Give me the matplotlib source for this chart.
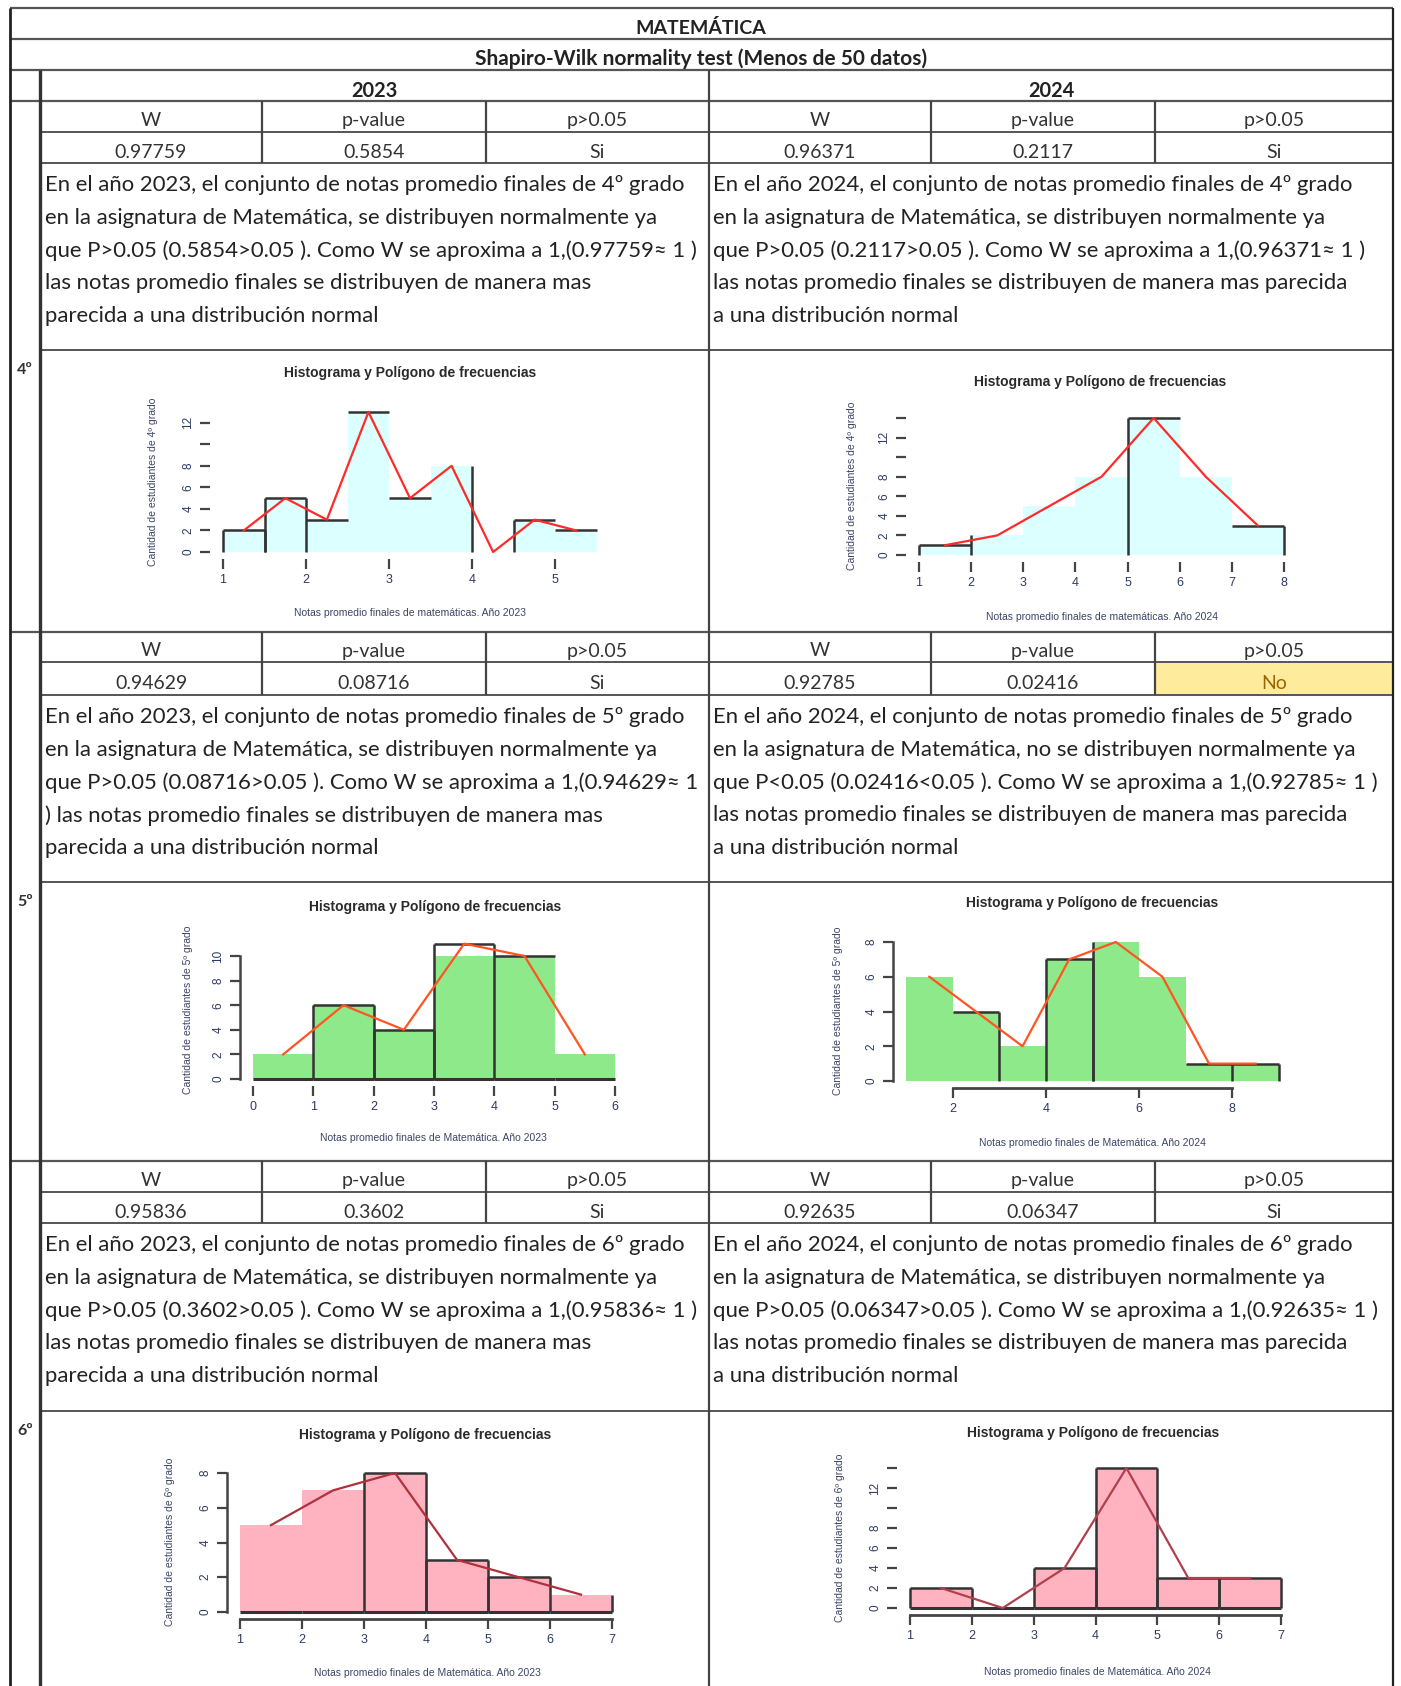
import numpy as np
import matplotlib.pyplot as plt
from matplotlib.patches import Rectangle

plt.rcParams['font.family'] = ['Lato', 'DejaVu Sans']

W_PX, H_PX = 1401, 1686

# ---- table data ----
grades = ['4º', '5º', '6º']
years = ['2023', '2024']
col_heads = ['W', 'p-value', 'p>0.05']
w_2023 = ['0.97759', '0.94629', '0.95836']
p_2023 = ['0.5854', '0.08716', '0.3602']
ok_2023 = ['Si', 'Si', 'Si']
w_2024 = ['0.96371', '0.92785', '0.92635']
p_2024 = ['0.2117', '0.02416', '0.06347']
ok_2024 = ['Si', 'No', 'Si']

text_2023 = [
    ["En el año 2023, el conjunto de notas promedio finales de 4º grado",
     "en la asignatura de Matemática, se distribuyen normalmente ya",
     "que P>0.05 (0.5854>0.05 ). Como W se aproxima a 1,(0.97759≈ 1 )",
     "las notas promedio finales se distribuyen de manera mas",
     "parecida a una distribución normal"],
    ["En el año 2023, el conjunto de notas promedio finales de 5º grado",
     "en la asignatura de Matemática, se distribuyen normalmente ya",
     "que P>0.05 (0.08716>0.05 ). Como W se aproxima a 1,(0.94629≈ 1",
     ") las notas promedio finales se distribuyen de manera mas",
     "parecida a una distribución normal"],
    ["En el año 2023, el conjunto de notas promedio finales de 6º grado",
     "en la asignatura de Matemática, se distribuyen normalmente ya",
     "que P>0.05 (0.3602>0.05 ). Como W se aproxima a 1,(0.95836≈ 1 )",
     "las notas promedio finales se distribuyen de manera mas",
     "parecida a una distribución normal"],
]
text_2024 = [
    ["En el año 2024, el conjunto de notas promedio finales de 4º grado",
     "en la asignatura de Matemática, se distribuyen normalmente ya",
     "que P>0.05 (0.2117>0.05 ). Como W se aproxima a 1,(0.96371≈ 1 )",
     "las notas promedio finales se distribuyen de manera mas parecida",
     "a una distribución normal"],
    ["En el año 2024, el conjunto de notas promedio finales de 5º grado",
     "en la asignatura de Matemática, no se distribuyen normalmente ya",
     "que P<0.05 (0.02416<0.05 ). Como W se aproxima a 1,(0.92785≈ 1 )",
     "las notas promedio finales se distribuyen de manera mas parecida",
     "a una distribución normal"],
    ["En el año 2024, el conjunto de notas promedio finales de 6º grado",
     "en la asignatura de Matemática, se distribuyen normalmente ya",
     "que P>0.05 (0.06347>0.05 ). Como W se aproxima a 1,(0.92635≈ 1 )",
     "las notas promedio finales se distribuyen de manera mas parecida",
     "a una distribución normal"],
]

# ---- histogram data (bin edges + counts) ----
edges_4_2023 = [1, 1.5, 2, 2.5, 3, 3.5, 4, 4.5, 5, 5.5]
counts_4_2023 = [2, 5, 3, 13, 5, 8, 0, 3, 2]
edges_4_2024 = [1, 2, 3, 4, 5, 6, 7, 8]
counts_4_2024 = [1, 2, 5, 8, 14, 8, 3]
edges_5_2023 = [0, 1, 2, 3, 4, 5, 6]
counts_5_2023 = [2, 6, 4, 11, 10, 2]
edges_5_2024 = [1, 2, 3, 4, 5, 6, 7, 8, 9]
counts_5_2024 = [6, 4, 2, 7, 8, 6, 1, 1]
edges_6_2023 = [1, 2, 3, 4, 5, 6, 7]
counts_6_2023 = [5, 7, 8, 3, 2, 1]
edges_6_2024 = [1, 2, 3, 4, 5, 6, 7]
counts_6_2024 = [2, 0, 4, 14, 3, 3]

xlab_2023 = ['Notas promedio finales de matemáticas. Año 2023',
             'Notas promedio finales de Matemática. Año 2023',
             'Notas promedio finales de Matemática. Año 2023']
xlab_2024 = ['Notas promedio finales de matemáticas. Año 2024',
             'Notas promedio finales de Matemática. Año 2024',
             'Notas promedio finales de Matemática. Año 2024']

fig = plt.figure(figsize=(W_PX / 100, H_PX / 100), dpi=100)
ax = fig.add_axes([0, 0, 1, 1])
ax.set_xlim(0, W_PX)
ax.set_ylim(H_PX, 0)
ax.axis('off')

# column / row grid (pixels)
XL, XG, XM, XR = 10, 40, 709, 1393
sub_x = [40, 262, 486, 709, 931, 1155, 1393]
blocks = [(101, 132, 163, 350, 632), (632, 662, 695, 882, 1161), (1161, 1192, 1223, 1411, 1686)]

lc = '#555555'
for y in [8, 39, 70, 101]:
    ax.hlines(y, XL, XR, color=lc, lw=1.6)
for i, (y0, y1, y2, y3, y4) in enumerate(blocks):
    if i > 0:
        ax.hlines(y0, XL, XR, color=lc, lw=1.6)
    for y in [y1, y2, y3]:
        ax.hlines(y, XG, XR, color=lc, lw=1.4)
    for x in sub_x[1:3] + sub_x[4:6]:
        ax.vlines(x, y0, y2, color='#444444', lw=1.6)
ax.vlines(XL, 8, H_PX, color='#222222', lw=2)
ax.vlines(XG, 70, H_PX, color='#333333', lw=2.4)
ax.vlines(XM, 70, H_PX, color='#444444', lw=1.6)
ax.vlines(XR, 8, H_PX, color='#222222', lw=1.6)

ax.text(701, 28, 'MATEMÁTICA', ha='center', va='center', fontsize=14, fontweight='bold', color='#222222')
ax.text(701, 59, 'Shapiro-Wilk normality test (Menos de 50 datos)', ha='center', va='center',
        fontsize=15, fontweight='bold', color='#222222')
ax.text((XG + XM) / 2, 91, years[0], ha='center', va='center', fontsize=14.4, fontweight='bold', color='#222222')
ax.text((XM + XR) / 2, 91, years[1], ha='center', va='center', fontsize=14.4, fontweight='bold', color='#222222')

stats_2023 = list(zip(w_2023, p_2023, ok_2023))
stats_2024 = list(zip(w_2024, p_2024, ok_2024))
for i, (y0, y1, y2, y3, y4) in enumerate(blocks):
    rows = stats_2023[i] + stats_2024[i]
    for j in range(6):
        xc = (sub_x[j] + sub_x[j + 1]) / 2
        ax.text(xc, (y0 + y1) / 2 + 4, col_heads[j % 3], ha='center', va='center', fontsize=14, color='#333333')
        col = '#333333'
        if rows[j] == 'No':
            ax.add_patch(Rectangle((sub_x[j] + 1, y1 + 1), sub_x[j + 1] - sub_x[j] - 2, y2 - y1 - 2,
                                   facecolor='#FFEB9C', edgecolor='none', zorder=0))
            col = '#9C6500'
        ax.text(xc, (y1 + y2) / 2 + 5, rows[j], ha='center', va='center', fontsize=14, color=col)
    for k in range(5):
        yy = y2 + 22 + 32.8 * k
        ax.text(45, yy, text_2023[i][k], ha='left', va='center', fontsize=15.9, color='#222222')
        ax.text(713, yy, text_2024[i][k], ha='left', va='center', fontsize=15.9, color='#222222')
    ax.text(25, y3 + 20, grades[i], ha='center', va='center', fontsize=11.5, fontweight='bold', color='#333333')


def hist_panel(edges, counts, xlim, xpx, ylim, ypx, face, line_col, styles,
               xticks, yticks, ylabels, left_bounds, bottom_bounds,
               title_xy, xlab, xlab_xy, ylab, ylab_xy):
    x0, x1 = xpx
    yb, yt = ypx
    a = fig.add_axes([x0 / W_PX, 1 - yb / H_PX, (x1 - x0) / W_PX, (yb - yt) / H_PX])
    a.set_facecolor('none')
    a.set_xlim(*xlim)
    a.set_ylim(*ylim)
    e = np.array(edges, dtype=float)
    c = np.array(counts, dtype=float)
    a.bar(e[:-1], c, width=np.diff(e), align='edge', color=face, edgecolor='none')
    ec = '#333333'
    for k in range(len(c)):
        s = styles[k]
        if 'l' in s:
            a.vlines(e[k], 0, c[k], color=ec, lw=1.8, clip_on=False)
        if 'r' in s:
            a.vlines(e[k + 1], 0, c[k], color=ec, lw=1.8, clip_on=False)
        if 't' in s:
            a.hlines(c[k], e[k], e[k + 1], color=ec, lw=1.8, clip_on=False)
        if 'b' in s:
            a.hlines(0, e[k], e[k + 1], color=ec, lw=2.2, clip_on=False)
    mids = (e[:-1] + e[1:]) / 2
    a.plot(mids, c, color=line_col, lw=1.6, clip_on=False)
    for sp in ['top', 'right']:
        a.spines[sp].set_visible(False)
    a.spines['left'].set_position(('outward', 9.5))
    a.spines['bottom'].set_position(('outward', 5))
    if left_bounds is None:
        a.spines['left'].set_visible(False)
    else:
        a.spines['left'].set_bounds(*left_bounds)
        a.spines['left'].set_color('#444444')
        a.spines['left'].set_linewidth(1.8)
    if bottom_bounds is None:
        a.spines['bottom'].set_visible(False)
    else:
        a.spines['bottom'].set_bounds(*bottom_bounds)
        a.spines['bottom'].set_color('#444444')
        a.spines['bottom'].set_linewidth(2)
    a.set_xticks(xticks)
    a.set_xticklabels([str(t) for t in xticks], fontsize=9, color='#2c3a66', family='Liberation Sans')
    a.set_yticks(yticks)
    a.set_yticklabels(ylabels, fontsize=8.5, color='#2c3a66', rotation=90, va='center', family='Liberation Sans')
    a.tick_params(axis='both', length=7, width=1.6, color='#444444', pad=4)
    ax.text(title_xy[0], title_xy[1], 'Histograma y Polígono de frecuencias', ha='center', va='center',
            fontsize=10, fontweight='bold', family='Liberation Sans', color='#2a2a2a')
    ax.text(xlab_xy[0], xlab_xy[1], xlab, ha='center', va='center', fontsize=7.5,
            family='Liberation Sans', color='#3d4566')
    ax.text(ylab_xy[0], ylab_xy[1], ylab, ha='center', va='center', fontsize=7.5, rotation=90,
            family='Liberation Sans', color='#3d4566')
    return a


cyan, green, pink = '#dcffff', '#8ee98a', '#ffb3c0'
ylab = ['Cantidad de estudiantes de 4º grado', 'Cantidad de estudiantes de 5º grado',
        'Cantidad de estudiantes de 6º grado']

hist_panel(edges_4_2023, counts_4_2023, (1, 5.5), (223, 597), (0, 13), (552, 412), cyan, '#ff2a2a',
           ['ltr', 'ltr', 't', 't', 't', 'r', '', 'lt', 't'],
           [1, 2, 3, 4, 5], [0, 2, 4, 6, 8, 10, 12], ['0', '2', '4', '6', '8', '', '12'], None, None,
           (410, 373), xlab_2023[0], (410, 613), ylab[0], (153, 482))
hist_panel(edges_4_2024, counts_4_2024, (1, 8), (919, 1284), (0, 14), (555, 418), cyan, '#ff2a2a',
           ['lt', 'l', '', '', 'lt', '', 'tr'],
           [1, 2, 3, 4, 5, 6, 7, 8], [0, 2, 4, 6, 8, 10, 12, 14], ['0', '2', '4', '6', '8', '', '12', ''],
           None, None, (1100, 382), xlab_2024[0], (1102, 617), ylab[0], (852, 486))
hist_panel(edges_5_2023, counts_5_2023, (0, 6), (253, 615), (0, 10), (1079, 956), green, '#ff5522',
           ['b', 'ltrb', 'ltrb', 'ltrb', 'tb', 'b'],
           [0, 1, 2, 3, 4, 5, 6], [0, 2, 4, 6, 8, 10], ['0', '2', '4', '6', '8', '10'], (0, 10), None,
           (435, 907), xlab_2023[1], (433, 1138), ylab[1], (188, 1010))
hist_panel(edges_5_2024, counts_5_2024, (1, 9), (906, 1279), (0, 8), (1081, 942), green, '#ff5522',
           ['', 'tr', '', 'ltr', 'l', '', 't', 'ltr'],
           [2, 4, 6, 8], [0, 2, 4, 6, 8], ['0', '2', '4', '6', '8'], (0, 8), (2, 8),
           (1092, 903), xlab_2024[1], (1092, 1143), ylab[1], (838, 1011))
hist_panel(edges_6_2023, counts_6_2023, (1, 7), (240, 612), (0, 8), (1612, 1473), pink, '#b0303c',
           ['b', 'b', 'ltrb', 'ltrb', 'ltrb', 'rb'],
           [1, 2, 3, 4, 5, 6, 7], [0, 2, 4, 6, 8], ['0', '2', '4', '6', '8'], (0, 8), (1, 7),
           (425, 1435), xlab_2023[2], (427, 1673), ylab[2], (170, 1542))
hist_panel(edges_6_2024, counts_6_2024, (1, 7), (910, 1281), (0, 14), (1608, 1468), pink, '#b0404c',
           ['ltrb', 'b', 'ltrb', 'ltrb', 'ltrb', 'ltrb'],
           [1, 2, 3, 4, 5, 6, 7], [0, 2, 4, 6, 8, 10, 12, 14], ['0', '2', '4', '6', '8', '', '12', ''],
           None, (1, 7), (1093, 1433), xlab_2024[2], (1097, 1672), ylab[2], (840, 1538))

fig.savefig('out.png', dpi=100, facecolor='white')
